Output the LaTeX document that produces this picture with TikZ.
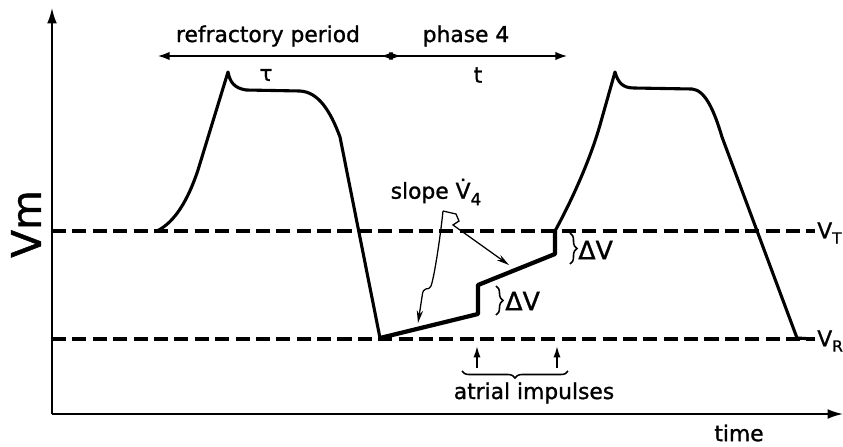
\documentclass[tikz,border=0pt]{standalone}
\usepackage{fontspec}
\setmainfont{DejaVu Sans}[FakeBold=1.2]
\usetikzlibrary{arrows.meta, decorations.pathreplacing}

\tikzset{
  axis/.style={line width=1.3pt},
  trace/.style={line width=2.2pt, line join=round},
  level/.style={line width=2.4pt, dash pattern=on 10pt off 4.5pt},
  lbl/.style={font=\fontsize{15.5}{18}\selectfont, inner sep=0pt},
  pointer/.style={line width=0.9pt, -{Stealth[length=9pt,width=4.5pt]}},
  span/.style={line width=1.8pt, {Latex[length=9pt,width=6pt]}-{Latex[length=9pt,width=6pt]}},
  curly/.style={decorate, decoration={brace, amplitude=5pt}, line width=1.1pt}
}

\newcommand{\vsub}[1]{V\raisebox{-0.45ex}{\fontsize{11}{11}\selectfont #1}}

\begin{document}
\begin{tikzpicture}[x=0.025cm, y=-0.025cm]
\useasboundingbox (0,0) rectangle (843,447);

% axes
\coordinate (O) at (52,414);
\coordinate (ytop) at (52,8);
\coordinate (xend) at (843,414);
\draw[axis, -{Latex[length=11pt,width=7pt]}] (O) -- (ytop);
\draw[axis, -{Latex[length=11pt,width=7pt]}] (O) -- (xend);
\node[lbl, font=\fontsize{29}{32}\selectfont, rotate=90] (vm) at (26,224) {Vm};
\node[lbl] (time) at (739,433) {time};

% threshold and resting levels
\coordinate (vt0) at (52,231);
\coordinate (vt1) at (815,231);
\coordinate (vr0) at (52,339);
\coordinate (vr1) at (815,339);
\draw[level] (vt0) -- (vt1);
\draw[level] (vr0) -- (vr1);
\node[lbl, anchor=west] (vtl) at (817,233) {\vsub{T}};
\node[lbl, anchor=west] (vrl) at (817,341) {\vsub{R}};

% refractory period and phase 4
\coordinate (rp0) at (157,56);
\coordinate (rp1) at (402,56);
\coordinate (ph0) at (380,56);
\coordinate (ph1) at (568,56);
\draw[span] (rp0) -- (rp1);
\draw[span] (ph0) -- (ph1);
\node[lbl] (refr) at (268,36) {refractory period};
\node[lbl] (phase) at (466,36) {phase 4};
\node[lbl] (tau) at (266,75) {τ};
\node[lbl] (tt) at (478,75) {t};

% membrane potential
\draw[trace] (157,231) .. controls (175,222) and (188,200) .. (198,170) -- (228,72)
  .. controls (230,82) and (234,88) .. (246,90) -- (300,91)
  .. controls (318,92) and (330,110) .. (340,137) -- (380,338);
\draw[trace, line width=3pt] (380,338) -- (478,314) -- (478,285) -- (555,254) -- (555,231);
\draw[trace] (555,231) .. controls (572,200) and (590,160) .. (600,125) -- (615,72)
  .. controls (618,82) and (622,88) .. (634,88) -- (692,89)
  .. controls (705,90) and (714,110) .. (722,137) -- (797,338) -- (813,339);

% delta V steps
\coordinate (dv1a) at (570,233);
\coordinate (dv1b) at (570,264);
\coordinate (dv2a) at (496,286);
\coordinate (dv2b) at (496,315);
\draw[curly] (dv1a) -- (dv1b);
\draw[curly] (dv2a) -- (dv2b);
\node[lbl, font=\fontsize{18}{20}\selectfont, anchor=west] (dv1) at (578,250) {ΔV};
\node[lbl, font=\fontsize{18}{20}\selectfont, anchor=west] (dv2) at (505,301) {ΔV};

% slope
\node[lbl] (slope) at (436,192) {slope \.{V}\raisebox{-0.55ex}{\fontsize{12}{12}\selectfont 4}};
\coordinate (sv) at (443,211);
\coordinate (sr) at (509,265);
\coordinate (sl) at (418,323);
\draw[pointer] (sv) -- (456,214) -- (459,221) -- (453,225) -- (sr);
\draw[pointer] (sv) .. controls (440,240) and (434,278) .. (431,286)
  .. controls (429,292) and (423,284) .. (422,297) -- (sl);

% atrial impulses
\coordinate (ai1) at (477,368);
\coordinate (ai1t) at (477,346);
\coordinate (ai2) at (557,368);
\coordinate (ai2t) at (557,346);
\draw[line width=1.2pt, -{Latex[length=8pt,width=5pt]}] (ai1) -- (ai1t);
\draw[line width=1.2pt, -{Latex[length=8pt,width=5pt]}] (ai2) -- (ai2t);
\coordinate (ab0) at (568,371);
\coordinate (ab1) at (462,371);
\draw[curly] (ab0) -- (ab1);
\node[lbl] (atrial) at (534,393) {atrial impulses};
\end{tikzpicture}
\end{document}
